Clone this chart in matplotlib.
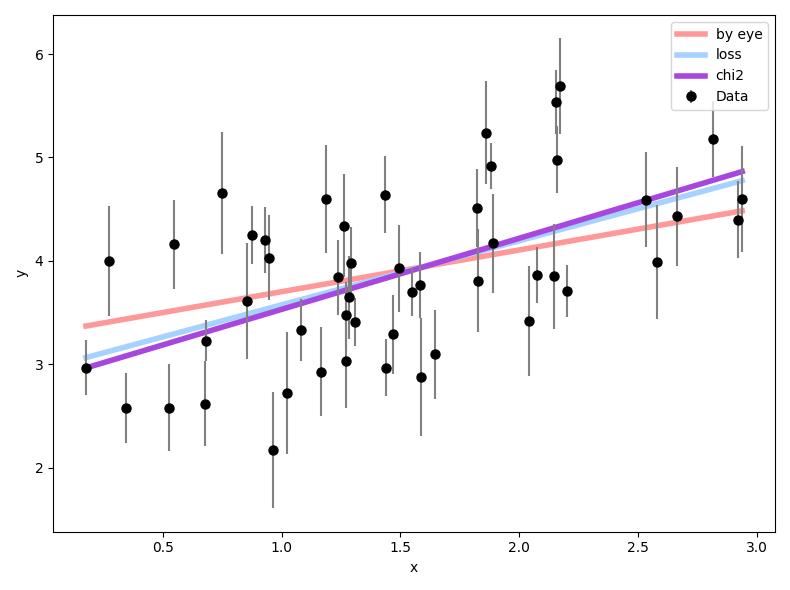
import numpy as np
import matplotlib
import matplotlib.pyplot as plt

matplotlib.use('Agg')

# data
x = np.array([0.176, 0.275, 0.346, 0.524, 0.545, 0.680, 0.678, 0.748, 0.852, 0.877,
              0.931, 0.947, 0.964, 1.022, 1.080, 1.167, 1.188, 1.238, 1.263, 1.292,
              1.285, 1.271, 1.308, 1.271, 1.433, 1.441, 1.470, 1.495, 1.549, 1.582,
              1.586, 1.644, 1.823, 1.827, 1.860, 1.881, 1.889, 2.043, 2.076, 2.146,
              2.200, 2.155, 2.171, 2.159, 2.532, 2.582, 2.665, 2.815, 2.922, 2.939])
y = np.array([2.97, 4.00, 2.58, 2.58, 4.16, 3.23, 2.62, 4.66, 3.61, 4.25,
              4.20, 4.03, 2.17, 2.72, 3.33, 2.93, 4.60, 3.84, 4.34, 3.98,
              3.65, 3.48, 3.41, 3.03, 4.64, 2.97, 3.29, 3.93, 3.70, 3.77,
              2.88, 3.10, 4.51, 3.81, 5.24, 4.92, 4.17, 3.42, 3.86, 3.85,
              3.71, 5.54, 5.69, 4.98, 4.59, 3.99, 4.43, 5.18, 4.40, 4.60])
yerr = np.array([0.27, 0.53, 0.34, 0.42, 0.43, 0.20, 0.41, 0.59, 0.56, 0.28,
                 0.32, 0.41, 0.56, 0.59, 0.30, 0.43, 0.52, 0.36, 0.50, 0.35,
                 0.40, 0.32, 0.23, 0.45, 0.37, 0.28, 0.38, 0.42, 0.23, 0.32,
                 0.57, 0.43, 0.38, 0.50, 0.50, 0.22, 0.48, 0.53, 0.27, 0.51,
                 0.25, 0.31, 0.46, 0.32, 0.46, 0.55, 0.48, 0.37, 0.37, 0.51])

# fitted lines: (intercept, slope)
fits = {
    'by eye': (3.30, 0.403, '#ff9999'),
    'loss': (2.957, 0.619, '#a6d2ff'),
    'chi2': (2.845, 0.687, '#a846e0'),
}

fig, ax = plt.subplots(figsize=(7.9, 5.9), dpi=100)
xx = np.array([x.min(), x.max()])
for name, (b, m, c) in fits.items():
    ax.plot(xx, b + m * xx, lw=4, color=c, label=name)
ax.errorbar(x, y, yerr=yerr, fmt='o', color='black', ecolor='gray',
            ms=6.5, label='Data', zorder=3)
ax.set_xlabel('x')
ax.set_ylabel('y')
ax.legend(loc='upper right')
fig.tight_layout()
fig.savefig('out.png')
